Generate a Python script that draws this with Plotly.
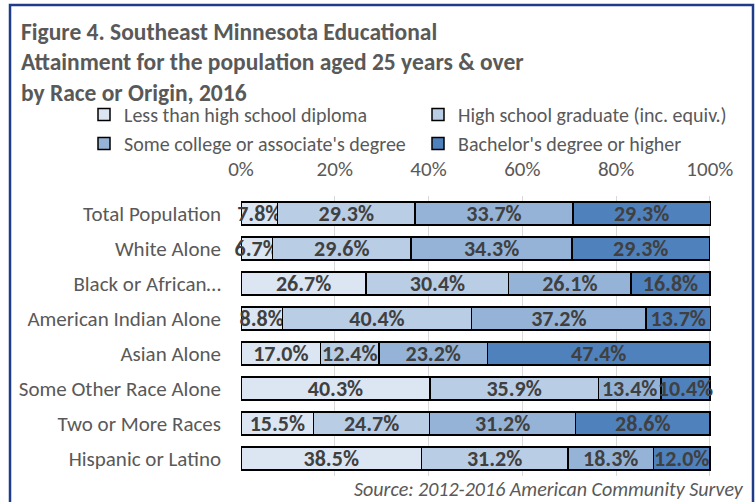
import plotly.graph_objects as go

categories = ["Total Population", "White Alone", "Black or African…", "American Indian Alone",
              "Asian Alone", "Some Other Race Alone", "Two or More Races", "Hispanic or Latino"]
series_names = ["Less than high school diploma", "High school graduate (inc. equiv.)",
                "Some college or associate's degree", "Bachelor's degree or higher"]
less_than_hs = [7.8, 6.7, 26.7, 8.8, 17.0, 40.3, 15.5, 38.5]
hs_grad = [29.3, 29.6, 30.4, 40.4, 12.4, 35.9, 24.7, 31.2]
some_college = [33.7, 34.3, 26.1, 37.2, 23.2, 13.4, 31.2, 18.3]
bachelors = [29.3, 29.3, 16.8, 13.7, 47.4, 10.4, 28.6, 12.0]
tick_vals = [0, 20, 40, 60, 80, 100]
tick_text = ["0%", "20%", "40%", "60%", "80%", "100%"]
title_lines = ["Figure 4. Southeast Minnesota Educational",
               "Attainment for the population aged 25 years &amp; over",
               "by Race or Origin, 2016"]

colors = ["#dce6f2", "#b9cde5", "#95b3d7", "#4f81bd"]
FONT = "Carlito, Lato, sans-serif"

fig = go.Figure()
for name, vals, col in zip(series_names, [less_than_hs, hs_grad, some_college, bachelors], colors):
    fig.add_trace(go.Bar(
        y=categories, x=vals, name=name, orientation="h",
        marker=dict(color=col, line=dict(color="#000000", width=1.5)),
        text=[f"{v:.1f}%" for v in vals], textposition="inside", insidetextanchor="middle",
        textangle=0, constraintext="none", cliponaxis=False,
        textfont=dict(family=FONT, size=22, color="#404040", weight="bold"),
        hoverinfo="skip",
    ))

W, H = 756, 502
L, R, T, B = 241, 45, 196, 26
pw, ph = W - L - R, H - T - B

def px(x):
    return (x - L) / pw

def py(y):
    return (H - B - y) / ph

fig.update_layout(
    width=W, height=H, barmode="stack", bargap=0.34,
    margin=dict(l=L, r=R, t=T, b=B),
    paper_bgcolor="white", plot_bgcolor="white",
    font=dict(family=FONT, color="#595959", size=21),
    xaxis=dict(side="top", range=[0, 100.25], tickvals=tick_vals, ticktext=tick_text,
               showgrid=True, gridcolor="#d9d9d9", gridwidth=1, zeroline=False,
               tickfont=dict(size=21, color="#595959"), ticks="", ticklabelstandoff=15,
               fixedrange=True),
    yaxis=dict(autorange="reversed", tickfont=dict(size=21, color="#595959"),
               ticks="", ticklabelstandoff=19, fixedrange=True),
    legend=dict(orientation="h", x=px(84), y=py(95), xanchor="left", yanchor="top",
                entrywidth=289, entrywidthmode="pixels", traceorder="normal",
                font=dict(size=20, color="#595959"), itemwidth=30, bgcolor="rgba(0,0,0,0)"),
    showlegend=True,
)

for i, (line, yc) in enumerate(zip(title_lines, [32, 62, 93])):
    fig.add_annotation(
        xref="paper", yref="paper", x=px(19), y=py(yc), xanchor="left", yanchor="middle",
        text=line, showarrow=False, align="left",
        font=dict(family=FONT, size=23.5, color="#595959", weight="bold"),
    )
fig.add_annotation(
    xref="paper", yref="paper", x=px(746), y=py(489), xanchor="right", yanchor="middle",
    text="<i>Source: 2012-2016 American Community Survey</i>", showarrow=False,
    font=dict(family=FONT, size=20, color="#595959"),
)
fig.add_shape(type="rect", xref="paper", yref="paper",
              x0=px(10), x1=px(753), y0=py(530), y1=py(5),
              line=dict(color="#1f3c88", width=2.5), fillcolor="rgba(0,0,0,0)", layer="above")

fig.write_html("out.html", config={"displayModeBar": False},
               post_script="document.body.style.margin='0';")
